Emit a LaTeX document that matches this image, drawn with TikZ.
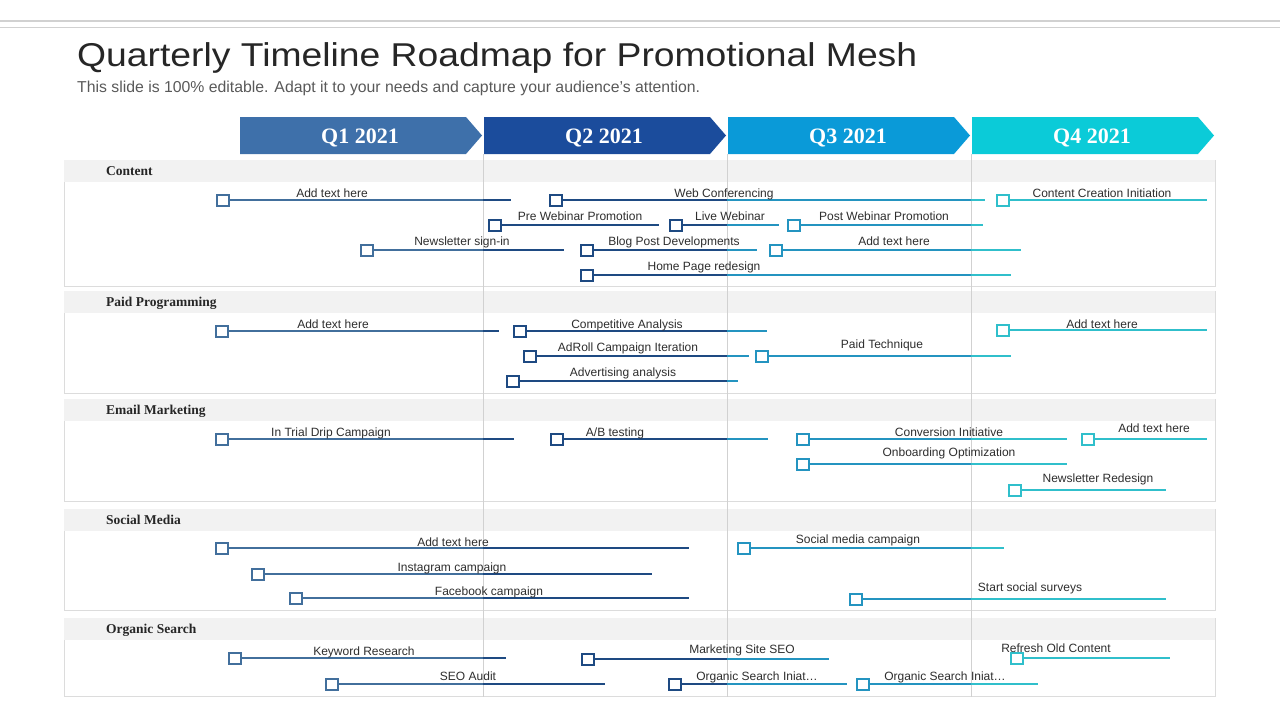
\documentclass[tikz,border=0pt]{standalone}
\usepackage{fontspec}
\setmainfont{Liberation Sans}
\newfontfamily\headfont{Liberation Serif}
\usepackage{tikz}
\definecolor{qone}{HTML}{3E70AA}
\definecolor{qtwo}{HTML}{1B4C9C}
\definecolor{qthree}{HTML}{0A9AD8}
\definecolor{qfour}{HTML}{0BCBD8}
\definecolor{line1}{HTML}{426F9C}
\definecolor{line2}{HTML}{1E4A82}
\definecolor{line3}{HTML}{2494C0}
\definecolor{line4}{HTML}{30BFCB}
\definecolor{bandgray}{HTML}{F2F2F2}
\definecolor{boxgray}{HTML}{DCDCDC}
\definecolor{titlegray}{HTML}{262626}
\definecolor{subgray}{HTML}{595959}
\definecolor{labeltext}{HTML}{2E2E2E}
\tikzset{
    %Define style for quarter labels
    quarter/.style={
           text=white,
           font=\headfont\bfseries\fontsize{22}{24}\selectfont},
    %Define style for section titles
    section/.style={
           anchor=west,
           inner sep=0pt,
           text height=9pt,
           text depth=3pt,
           text=black!85,
           font=\headfont\bfseries\fontsize{13.5}{15}\selectfont},
    %Define style for task markers
    marker/.style={
           rectangle,
           fill=white,
           line width=2pt,
           minimum width=12pt,
           minimum height=11pt,
           inner sep=0pt},
    %Define style for task texts
    task/.style={
           anchor=base,
           inner sep=0pt,
           text=labeltext,
           font=\fontsize{12}{14}\selectfont},
    % Define line styles
    bar/.style={line width=2pt},
    grid/.style={draw=black!18, line width=0.8pt},
    box/.style={fill=white, draw=boxgray, line width=0.8pt},
    band/.style={fill=bandgray},
    topline/.style={draw=black!18}
}
\begin{document}
\begin{tikzpicture}[x=1pt,y=-1pt]
\useasboundingbox (0,0) rectangle (1280,720);
 %header
\draw[topline, line width=2pt] (0,21) -- (1280,21);
\draw[topline, line width=1pt] (0,27.5) -- (1280,27.5);
\node[anchor=base west, inner sep=0pt, text=titlegray,
  font=\fontsize{33}{36}\selectfont] (title) at (77,66)
  {\scalebox{1.13}[1]{Quarterly Timeline Roadmap for Promotional Mesh}};
\node[anchor=base west, inner sep=0pt, text=subgray,
  font=\fontsize{15.8}{18}\selectfont] (subtitle) at (77,92)
  {This slide is 100\% editable. Adapt it to your needs and capture your audience's attention.};
 %quarters
\foreach \i/\c/\xa in {1/qone/240,2/qtwo/484,3/qthree/728,4/qfour/972}{
  \fill[\c] (\xa,117) -- (\xa+226,117) -- (\xa+242,135.5) -- (\xa+226,154) -- (\xa,154) -- cycle;
  \node[quarter] (q\i) at (\xa+120,138) {Q\i\ 2021};
}
 %sections
\foreach \n/\name/\top/\bot in {1/Content/160/286, 2/Paid Programming/291/393,
    3/Email Marketing/399/501, 4/Social Media/509/610, 5/Organic Search/618/696}{
  \path[box] (64,\top) rectangle (1215,\bot);
  \fill[bandgray] (64.4,\top+0.4) rectangle (1214.6,\top+21.5);
  \node[section] (s\n) at (106,\top+12.5) {\name};
}
\foreach \x in {483,727,971}
  \draw[grid] (\x,154) -- (\x,697);
 %tasks
\foreach \n/\sx/\y/\ex/\lx/\ly/\txt in {
    a1/223/200/511/332/193/Add text here,
    a2/556/200/985/724/193/Web Conferencing,
    a3/1003/200/1207/1102/193/Content Creation Initiation,
    a4/495/225/659/580/216/Pre Webinar Promotion,
    a5/676/225/779/730/216/Live Webinar,
    a6/794/225/983/884/216/Post Webinar Promotion,
    a7/367/250/564/462/241/Newsletter sign-in,
    a8/587/250/757/674/241/Blog Post Developments,
    a9/776/250/1021/894/241/Add text here,
    a10/587/275/1011/704/266/Home Page redesign,
    b1/222/331/499/333/324/Add text here,
    b2/520/331/767/627/324/Competitive Analysis,
    b3/1003/330/1207/1102/324/Add text here,
    b4/530/356/749/628/347/AdRoll Campaign Iteration,
    b5/762/356/1011/882/344/Paid Technique,
    b6/513/381/738/623/372/Advertising analysis,
    c1/222/439/514/331/432/In Trial Drip Campaign,
    c2/557/439/768/615/432/{A/B testing},
    c3/803/439/1067/949/432/Conversion Initiative,
    c4/1088/439/1207/1154/428/Add text here,
    c5/803/464/1067/949/452/Onboarding Optimization,
    c6/1015/490/1166/1098/478/Newsletter Redesign,
    d1/222/548/689/453/542/Add text here,
    d2/258/574/652/452/567/Instagram campaign,
    d3/296/598/689/489/591/Facebook campaign,
    d4/744/548/1004/858/539/Social media campaign,
    d5/856/599/1166/1030/587/Start social surveys,
    e1/235/658/506/364/651/Keyword Research,
    e2/588/659/829/742/649/Marketing Site SEO,
    e3/1017/658/1170/1056/648/Refresh Old Content,
    e4/332/684/605/468/676/SEO Audit,
    e5/675/684/847/757/676/Organic Search Iniat\ldots,
    e6/863/684/1038/945/676/Organic Search Iniat\ldots}{
  \pgfmathtruncatemacro\qi{\sx<483 ? 1 : (\sx<727 ? 2 : (\sx<971 ? 3 : 4))}
  \node[marker, draw=line\qi] (m\n) at (\sx,\y) {};
  \coordinate (e\n) at (\ex,\y);
  \foreach \q/\xa/\xb in {1/0/483,2/483/727,3/727/971,4/971/1280}{
    \begin{scope}
      \clip (\xa,0) rectangle (\xb,720);
      \draw[bar, line\q] (m\n.east) -- (e\n);
    \end{scope}
  }
  \node[task] (t\n) at (\lx,\ly+4.3) {\txt};
}
\end{tikzpicture}
\end{document}
